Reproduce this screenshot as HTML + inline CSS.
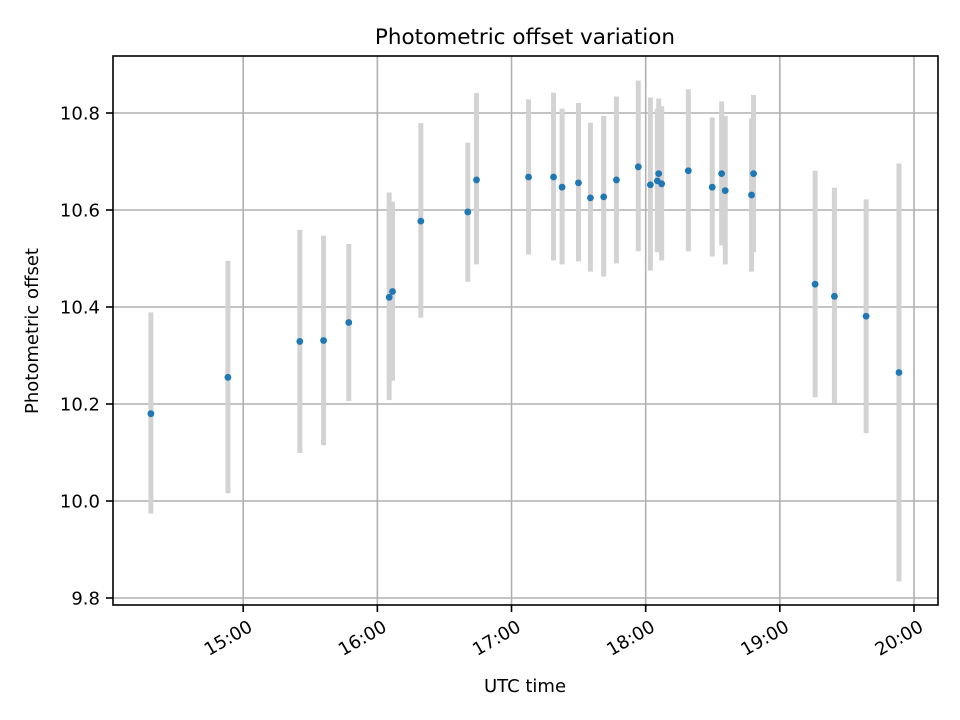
<!DOCTYPE html>
<html><head><meta charset="utf-8"><style>
body{margin:0;background:#fff;}
svg{display:block;font-family:"DejaVu Sans","Liberation Sans",sans-serif;}
</style></head><body>
<svg id="chart" width="960" height="720" viewBox="0 0 960 720" xmlns="http://www.w3.org/2000/svg">
<rect width="960" height="720" fill="#fff"/>
<text x="525" y="44" font-size="21.5" text-anchor="middle">Photometric offset variation</text>
<text x="525" y="692" font-size="18" text-anchor="middle">UTC time</text>
<text transform="translate(38,331) rotate(-90)" font-size="18" text-anchor="middle">Photometric offset</text>
<g id="grid"></g><g id="bars"></g><g id="pts"></g><g id="axes"></g>
</svg>
<script>
const times = [14.312,14.886,15.422,15.599,15.787,16.088,16.113,16.324,16.674,16.739,17.127,17.313,17.377,17.499,17.588,17.687,17.782,17.945,18.035,18.087,18.097,18.119,18.318,18.496,18.566,18.593,18.789,18.804,19.263,19.407,19.643,19.888];
const offsets = [10.18,10.255,10.329,10.331,10.368,10.42,10.432,10.577,10.596,10.662,10.668,10.668,10.647,10.656,10.625,10.627,10.662,10.689,10.652,10.66,10.675,10.654,10.681,10.647,10.675,10.64,10.631,10.675,10.447,10.422,10.381,10.265];
const upper = [10.389,10.495,10.559,10.547,10.530,10.636,10.617,10.779,10.739,10.841,10.828,10.842,10.809,10.821,10.780,10.794,10.834,10.867,10.832,10.809,10.830,10.814,10.849,10.791,10.824,10.794,10.789,10.837,10.681,10.646,10.622,10.696];
const lower = [9.974,10.016,10.099,10.115,10.206,10.208,10.248,10.378,10.452,10.488,10.508,10.496,10.488,10.494,10.473,10.463,10.490,10.515,10.475,10.513,10.520,10.496,10.515,10.504,10.527,10.488,10.473,10.513,10.214,10.201,10.140,9.834];
const xTicks = [15,16,17,18,19,20];
const xTickLabels = ["15:00","16:00","17:00","18:00","19:00","20:00"];
const yTicks = [9.8,10.0,10.2,10.4,10.6,10.8];
const yTickLabels = ["9.8","10.0","10.2","10.4","10.6","10.8"];

const L=113,R=938,T=56,B=605;
const X=h=>243.2+(h-15)*134.16;
const Y=v=>598-(v-9.8)*485;
const NS="http://www.w3.org/2000/svg";
function mk(tag,attrs,parent){const e=document.createElementNS(NS,tag);for(const k in attrs)e.setAttribute(k,attrs[k]);parent.appendChild(e);return e;}
const grid=document.getElementById('grid'),bars=document.getElementById('bars'),pts=document.getElementById('pts'),axes=document.getElementById('axes');
xTicks.forEach((t,i)=>{
  const x=X(t);
  const g=mk('line',{x1:x,x2:x,y1:T,y2:B,stroke:'#b0b0b0','stroke-width':1.6},grid);
  
  
  const tk=mk('line',{x1:x,x2:x,y1:B,y2:B+7,stroke:'#000','stroke-width':1.6},axes);
  
  
  const ax=x+4, ay=B+14;
  const tx=mk('text',{x:ax,y:ay+13,'font-size':18,'text-anchor':'end',transform:`rotate(-30 ${ax} ${ay})`},axes);
  tx.textContent=xTickLabels[i];
  
  
});
yTicks.forEach((t,i)=>{
  const y=Y(t);
  const g=mk('line',{x1:L,x2:R,y1:y,y2:y,stroke:'#b0b0b0','stroke-width':1.6},grid);
  
  
  const tk=mk('line',{x1:L-7,x2:L,y1:y,y2:y,stroke:'#000','stroke-width':1.6},axes);
  
  
  const tx=mk('text',{x:L-13,y:y+6.5,'font-size':18,'text-anchor':'end'},axes);
  tx.textContent=yTickLabels[i];
  
  
});
times.forEach((h,i)=>{
  const x=X(h);
  const b=mk('line',{x1:x,x2:x,y1:Y(upper[i]),y2:Y(lower[i]),stroke:'#d3d3d3','stroke-width':5},bars);
  
  
  const c=mk('circle',{cx:x,cy:Y(offsets[i]),r:3.4,fill:'#1f77b4'},pts);
  
  
});
const fr=mk('rect',{x:L,y:T,width:R-L,height:B-T,fill:'none',stroke:'#000','stroke-width':1.6},axes);


</script>
</body></html>
